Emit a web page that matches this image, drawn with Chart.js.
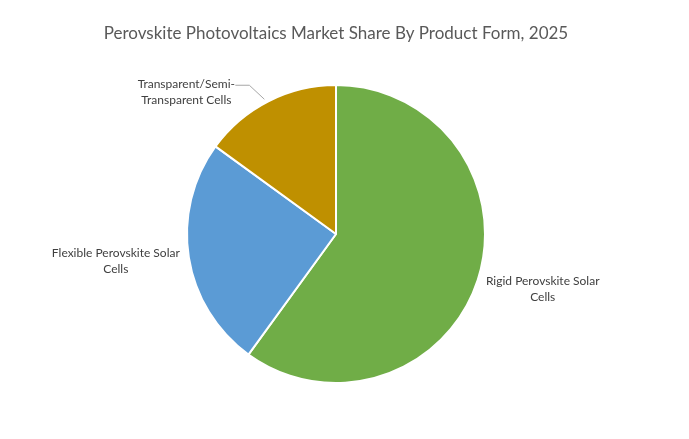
<!DOCTYPE html>
<html>
<head>
<meta charset="utf-8">
<script src="https://cdn.jsdelivr.net/npm/chart.js@4.4.1/dist/chart.umd.min.js"></script>
<style>
  html, body { margin: 0; padding: 0; background: #fff; }
  #wrap { width: 689px; height: 439px; }
</style>
</head>
<body>
<div id="wrap"><canvas id="graph" width="689" height="439"></canvas></div>
<script>
const categories = ["Rigid Perovskite Solar Cells", "Flexible Perovskite Solar Cells", "Transparent/Semi-Transparent Cells"];
const labelLines = [["Rigid Perovskite Solar", "Cells"], ["Flexible Perovskite Solar", "Cells"], ["Transparent/Semi-", "Transparent Cells"]];
const shares = [60, 25, 15];
const colors = ["#70AD47", "#5B9BD5", "#BF9000"];
const titleText = "Perovskite Photovoltaics Market Share By Product Form, 2025";

// label offsets from the slice edge (dx, dy)
const labelOffsets = [[65, 9], [-73, 4], [-82, -9]];

const titlePlugin = {
  id: "drawTitle",
  afterDraw(chart) {
    const ctx = chart.ctx;
    ctx.save();
    ctx.font = "17px Lato, 'Open Sans', sans-serif";
    ctx.fillStyle = "#595959";
    ctx.textAlign = "center";
    ctx.textBaseline = "middle";
    ctx.fillText(titleText, 336, 34);
    ctx.restore();
  }
};

const sliceLabels = {
  id: "sliceLabels",
  afterDatasetsDraw(chart) {
    const ctx = chart.ctx;
    const meta = chart.getDatasetMeta(0);
    ctx.save();
    ctx.font = "12px Lato, 'Open Sans', sans-serif";
    ctx.fillStyle = "#404040";
    ctx.textAlign = "center";
    ctx.textBaseline = "middle";
    meta.data.forEach((arc, i) => {
      const mid = (arc.startAngle + arc.endAngle) / 2;
      const ex = arc.x + Math.cos(mid) * arc.outerRadius;
      const ey = arc.y + Math.sin(mid) * arc.outerRadius;
      const lx = ex + labelOffsets[i][0];
      const ly = ey + labelOffsets[i][1];
      const lines = labelLines[i];
      lines.forEach((t, k) => {
        ctx.fillText(t, lx, ly + (k - (lines.length - 1) / 2) * 16);
      });
      if (i === 2) {
        // leader line
        ctx.strokeStyle = "#A6A6A6";
        ctx.lineWidth = 1;
        ctx.beginPath();
        ctx.moveTo(lx + 49, ly - 7);
        ctx.lineTo(lx + 63, ly - 7);
        ctx.lineTo(ex - 4, ey - 2);
        ctx.stroke();
      }
    });
    ctx.restore();
  }
};

new Chart(document.getElementById("graph"), {
  type: "pie",
  data: {
    labels: categories,
    datasets: [{
      data: shares,
      backgroundColor: colors,
      borderColor: "#ffffff",
      borderWidth: 2
    }]
  },
  options: {
    responsive: false,
    animation: false,
    layout: { padding: { top: 84, bottom: 55, left: 186, right: 203 } },
    plugins: {
      legend: { display: false },
      tooltip: { enabled: false },
      title: { display: false }
    }
  },
  plugins: [titlePlugin, sliceLabels]
});
</script>
</body>
</html>
